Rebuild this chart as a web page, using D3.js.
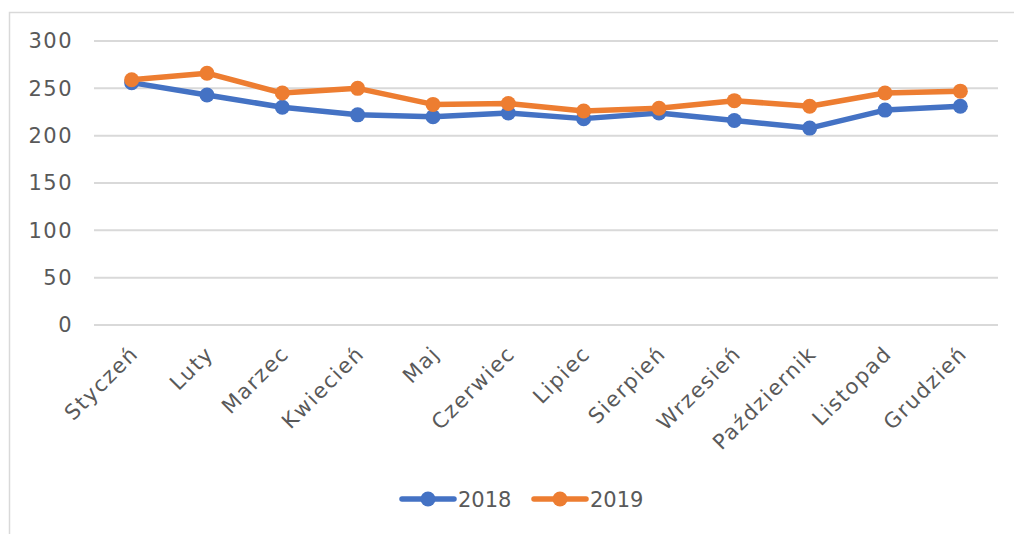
<!DOCTYPE html>
<html>
<head>
<meta charset="utf-8">
<script src="https://cdn.jsdelivr.net/npm/d3@7"></script>
<style>
  body { margin: 0; background: #fff; }
  text { font-family: "DejaVu Sans", sans-serif; fill: #595959; }
</style>
</head>
<body>
<script>
const w = 1014; // width
const h = 534; // height

const months = ["Styczeń", "Luty", "Marzec", "Kwiecień", "Maj", "Czerwiec",
    "Lipiec", "Sierpień", "Wrzesień", "Październik", "Listopad", "Grudzień"];
const years = ["2018", "2019"];
const values2018 = [256, 243, 230, 222, 220, 224, 218, 224, 216, 208, 227, 231];
const values2019 = [259, 266, 245, 250, 233, 234, 226, 229, 237, 231, 245, 247];
const yTicks = [0, 50, 100, 150, 200, 250, 300];
const colors = ["#4472C4", "#ED7D31"];

const series = [values2018, values2019];

let svg = d3.select("body")
    .append("svg")
    .attr('width', w)
    .attr('height', h);

// chart border (only top and left visible)
svg.append("rect")
    .attr("x", 9.5)
    .attr("y", 12.5)
    .attr("width", w + 10)
    .attr("height", h + 10)
    .attr("fill", "none")
    .attr("stroke", "#d9d9d9")
    .attr("stroke-width", 1.5);

// scale x
let x = d3.scaleBand()
    .domain(months)
    .range([94, 998]);

// scale y
let y = d3.scaleLinear()
    .domain([0, 300])
    .range([325, 41]);

// grid lines
svg.append("g")
    .selectAll("line")
    .data(yTicks)
    .enter()
    .append("line")
    .attr("x1", 94)
    .attr("x2", 998)
    .attr("y1", d => y(d))
    .attr("y2", d => y(d))
    .attr("stroke", "#d9d9d9")
    .attr("stroke-width", 2);

// y axis
let yAxis = svg.append("g")
    .attr('transform', `translate(73, 0)`)
    .call(d3.axisLeft(y).tickValues(yTicks).tickSize(0).tickPadding(0));
yAxis.select(".domain").remove();
yAxis.selectAll("text")
    .attr("font-size", 21)
    .attr("letter-spacing", 1.5)
    .attr("font-family", null)
    .attr("fill", null);

// x axis
let xAxis = svg.append("g")
    .attr('transform', `translate(0, 325)`)
    .call(d3.axisBottom(x).tickSize(0).tickPadding(0));
xAxis.select(".domain").remove();
xAxis.selectAll("text")
    .attr("font-size", 21)
    .attr("letter-spacing", 1.6)
    .attr("font-family", null)
    .attr("fill", null)
    .attr("text-anchor", "end")
    .attr("dy", null)
    .attr("y", 0)
    .attr("transform", "translate(8, 30) rotate(-45)");

// lines
let line = d3.line()
    .x((d, i) => x(months[i]) + x.bandwidth() / 2)
    .y(d => y(d));

series.forEach((vals, s) => {
    svg.append("path")
        .datum(vals)
        .attr("fill", "none")
        .attr("stroke", colors[s])
        .attr("stroke-width", 5.5)
        .attr("stroke-linejoin", "round")
        .attr("stroke-linecap", "round")
        .attr("d", line);

    svg.append("g")
        .selectAll("circle")
        .data(vals)
        .enter()
        .append("circle")
        .attr("cx", (d, i) => x(months[i]) + x.bandwidth() / 2)
        .attr("cy", d => y(d))
        .attr("r", 7.5)
        .attr("fill", colors[s]);
});

// legend
const legendX = [400, 532];
let legend = svg.append("g")
    .selectAll("g")
    .data(years)
    .enter()
    .append("g")
    .attr("transform", (d, i) => `translate(${legendX[i]}, 499)`);

legend.append("line")
    .attr("x1", 2)
    .attr("x2", 54)
    .attr("stroke", (d, i) => colors[i])
    .attr("stroke-width", 5.5)
    .attr("stroke-linecap", "round");

legend.append("circle")
    .attr("cx", 28)
    .attr("r", 7.5)
    .attr("fill", (d, i) => colors[i]);

legend.append("text")
    .attr("x", 58)
    .attr("dy", "0.36em")
    .attr("font-size", 21)
    .text(d => d);
</script>
</body>
</html>
